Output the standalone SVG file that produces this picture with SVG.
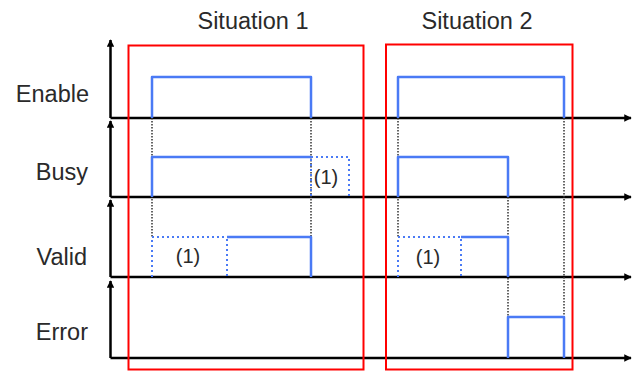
<svg xmlns="http://www.w3.org/2000/svg" width="632" height="371" viewBox="0 0 632 371">
<style>
.lbl{font-family:"Liberation Sans",Arial,sans-serif;font-size:23.5px;fill:#2a2a2a}
.note{font-family:"Liberation Sans",Arial,sans-serif;font-size:20px;fill:#2a2a2a}
.axis{fill:none;stroke:#000;stroke-width:2.5;stroke-linejoin:round}
.sig{fill:none;stroke:#4a7af5;stroke-width:2.5;stroke-linejoin:round}
.sigd{fill:none;stroke:#4a7af5;stroke-width:2;stroke-dasharray:2 3}
.guide{fill:none;stroke:#333;stroke-width:1.5;stroke-dasharray:1.5 1.5}
.box{fill:none;stroke:#ff0000;stroke-width:2}
</style>
<defs>
<marker id="ah" viewBox="0 0 10 10" refX="9" refY="5" markerWidth="3.2" markerHeight="3" orient="auto" markerUnits="strokeWidth">
<path d="M0,0 L10,5 L0,10 z" fill="#000"/>
</marker>
</defs>
<rect width="632" height="371" fill="#fff"/>
<g id="titles">
<text class="lbl" x="253" y="29" text-anchor="middle">Situation 1</text>
<text class="lbl" x="477" y="29" text-anchor="middle">Situation 2</text>
</g>
<g id="labels">
<text class="lbl" x="89" y="102" text-anchor="end">Enable</text>
<text class="lbl" x="88" y="180" text-anchor="end">Busy</text>
<text class="lbl" x="87" y="265" text-anchor="end">Valid</text>
<text class="lbl" x="88" y="340" text-anchor="end">Error</text>
</g>
<g id="connectors">
<g id="axes">
<path class="axis" d="M110.5,118 V40" marker-end="url(#ah)"/>
<path class="axis" d="M110.5,197 V121" marker-end="url(#ah)"/>
<path class="axis" d="M110.5,277 V200" marker-end="url(#ah)"/>
<path class="axis" d="M110.5,358 V281" marker-end="url(#ah)"/>
<path class="axis" d="M110.5,118 H631" marker-end="url(#ah)"/>
<path class="axis" d="M110.5,197 H631" marker-end="url(#ah)"/>
<path class="axis" d="M110.5,277 H631" marker-end="url(#ah)"/>
<path class="axis" d="M110.5,358 H631" marker-end="url(#ah)"/>
</g>
<g id="guides">
<path class="guide" d="M152,118 V237 M311,118 V237 M398,118 V237 M508,197 V317 M564,118 V317"/>
</g>
<g id="signals">
<path class="sig" d="M152,118 V77 H311 V118"/>
<path class="sig" d="M398,118 V77 H564 V118"/>
<path class="sig" d="M152,197 V157 H311"/>
<path class="sigd" d="M311,157 H349 V197 M311,159 V197"/>
<path class="sig" d="M398,197 V157 H508 V197"/>
<path class="sigd" d="M152,277 V237 H227 M227,239 V277"/>
<path class="sig" d="M227,237 H311 V277"/>
<path class="sigd" d="M398,277 V237 H461 M461,239 V277"/>
<path class="sig" d="M461,237 H508 V277"/>
<path class="sig" d="M508,358 V317 H564 V358"/>
</g>
</g>
<g id="notes">
<text class="note" x="326" y="184" text-anchor="middle">(1)</text>
<text class="note" x="188" y="263" text-anchor="middle">(1)</text>
<text class="note" x="428" y="264" text-anchor="middle">(1)</text>
</g>
<g id="situation1"><rect class="box" x="128.5" y="45.5" width="235" height="324"/></g>
<g id="situation2"><rect class="box" x="386" y="44.5" width="186.5" height="325"/></g>
</svg>
